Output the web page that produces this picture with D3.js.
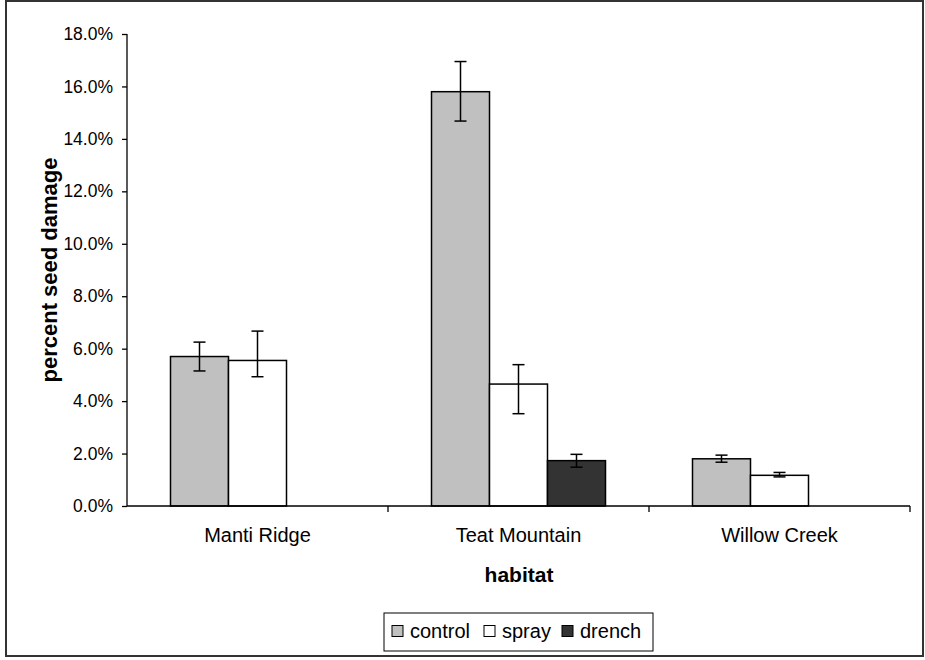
<!DOCTYPE html>
<html>
<head>
<meta charset="utf-8">
<script src="https://cdn.jsdelivr.net/npm/d3@7"></script>
<style>
  body { margin: 0; background: #fff; }
  text { font-family: "Liberation Sans", Arial, sans-serif; fill: #000; }
</style>
</head>
<body>
<div id="chart"></div>
<script>
// data (percent seed damage)
var categories = ["Manti Ridge", "Teat Mountain", "Willow Creek"];
var seriesNames = ["control", "spray", "drench"];
var controlValues = [5.7, 15.8, 1.8];
var sprayValues   = [5.55, 4.65, 1.17];
var drenchValues  = [0, 1.73, 0];
var controlErrPlus  = [0.55, 1.15, 0.14];
var controlErrMinus = [0.55, 1.12, 0.13];
var sprayErrPlus    = [1.12, 0.74, 0.11];
var sprayErrMinus   = [0.62, 1.13, 0.06];
var drenchErrPlus   = [0, 0.24, 0];
var drenchErrMinus  = [0, 0.25, 0];
var yTicks = [0, 2, 4, 6, 8, 10, 12, 14, 16, 18];

var fills = { control: "#c0c0c0", spray: "#ffffff", drench: "#333333" };

var rows = seriesNames.map(function (s, i) {
    var vals = [controlValues, sprayValues, drenchValues][i];
    var plus = [controlErrPlus, sprayErrPlus, drenchErrPlus][i];
    var minus = [controlErrMinus, sprayErrMinus, drenchErrMinus][i];
    return categories.map(function (c, j) {
        return { series: s, category: c, value: vals[j], plus: plus[j], minus: minus[j] };
    });
});
var bars = d3.merge(rows);

var svgWidth = 925, svgHeight = 660;
var plotLeft = 127, plotRight = 910, plotTop = 34, plotBottom = 506;

var svg = d3.select("#chart")
    .append("svg")
    .attr("width", svgWidth)
    .attr("height", svgHeight);

// outer frame
svg.append("rect")
    .attr("x", 6).attr("y", 1)
    .attr("width", 917).attr("height", 655)
    .attr("fill", "none")
    .attr("stroke", "#333")
    .attr("stroke-width", 2);

var x0 = d3.scaleBand().domain(categories).range([plotLeft, plotRight]);
var x1 = d3.scaleBand().domain(seriesNames)
    .range([0, x0.bandwidth()])
    .paddingInner(0)
    .paddingOuter(0.75);
var y = d3.scaleLinear().domain([0, 18]).range([plotBottom, plotTop]);

// y axis
var yAxis = d3.axisLeft(y)
    .tickValues(yTicks)
    .tickSize(5)
    .tickPadding(9)
    .tickFormat(function (d) { return d.toFixed(1) + "%"; });
var gy = svg.append("g")
    .attr("transform", "translate(" + plotLeft + ",0)")
    .call(yAxis);
gy.selectAll("text").style("font-size", "17.5px").style("font-family", "Liberation Sans, Arial, sans-serif");
gy.selectAll("line, path").attr("stroke", "#000").attr("stroke-width", 1.3);
gy.select(".domain").attr("d", "M0," + plotTop + "V" + plotBottom);

// bars
svg.append("g").selectAll("rect")
    .data(bars)
    .enter()
    .append("rect")
    .attr("x", function (d) { return x0(d.category) + x1(d.series); })
    .attr("y", function (d) { return y(d.value); })
    .attr("width", x1.bandwidth())
    .attr("height", function (d) { return y(0) - y(d.value); })
    .attr("fill", function (d) { return fills[d.series]; })
    .attr("stroke", "#000")
    .attr("stroke-width", 1.5);

// x axis line and boundary ticks
svg.append("line")
    .attr("x1", plotLeft).attr("x2", plotRight)
    .attr("y1", plotBottom).attr("y2", plotBottom)
    .attr("stroke", "#000").attr("stroke-width", 1.3);
var bounds = categories.map(function (c) { return x0(c) + x0.bandwidth(); });
svg.append("g").selectAll("line")
    .data(bounds)
    .enter()
    .append("line")
    .attr("x1", function (d) { return d; }).attr("x2", function (d) { return d; })
    .attr("y1", plotBottom).attr("y2", plotBottom + 6)
    .attr("stroke", "#000").attr("stroke-width", 1.3);

// error bars
var errs = bars.filter(function (d) { return d.plus > 0 || d.minus > 0; });
var eg = svg.append("g").attr("stroke", "#000").attr("stroke-width", 1.5);
errs.forEach(function (d) {
    var cx = x0(d.category) + x1(d.series) + x1.bandwidth() / 2;
    var yt = y(d.value + d.plus), yb = y(d.value - d.minus);
    eg.append("line").attr("x1", cx).attr("x2", cx).attr("y1", yt).attr("y2", yb);
    eg.append("line").attr("x1", cx - 6).attr("x2", cx + 6).attr("y1", yt).attr("y2", yt);
    eg.append("line").attr("x1", cx - 6).attr("x2", cx + 6).attr("y1", yb).attr("y2", yb);
});

// category labels
svg.append("g").selectAll("text")
    .data(categories)
    .enter()
    .append("text")
    .attr("x", function (c) { return x0(c) + x0.bandwidth() / 2; })
    .attr("y", 542)
    .attr("text-anchor", "middle")
    .style("font-size", "20px")
    .text(function (c) { return c; });

// axis titles
svg.append("text")
    .attr("x", 519).attr("y", 582)
    .attr("text-anchor", "middle")
    .style("font-size", "21px")
    .style("font-weight", "bold")
    .text("habitat");

svg.append("text")
    .attr("transform", "translate(57," + ((plotTop + plotBottom) / 2) + ") rotate(-90)")
    .attr("text-anchor", "middle")
    .style("font-size", "22px")
    .style("font-weight", "bold")
    .text("percent seed damage");

// legend
var legend = svg.append("g");
legend.append("rect")
    .attr("x", 384).attr("y", 613)
    .attr("width", 269).attr("height", 38)
    .attr("fill", "#fff").attr("stroke", "#000").attr("stroke-width", 1);
var legendX = [392, 484, 562];
var items = legend.selectAll("g.item")
    .data(seriesNames)
    .enter()
    .append("g")
    .attr("class", "item")
    .attr("transform", function (d, i) { return "translate(" + legendX[i] + ",0)"; });
items.append("rect")
    .attr("x", 0).attr("y", 625.5)
    .attr("width", 11).attr("height", 11)
    .attr("fill", function (d) { return fills[d]; })
    .attr("stroke", "#000").attr("stroke-width", 1);
items.append("text")
    .attr("x", 18).attr("y", 637.5)
    .style("font-size", "20px")
    .text(function (d) { return d; });
</script>
</body>
</html>
